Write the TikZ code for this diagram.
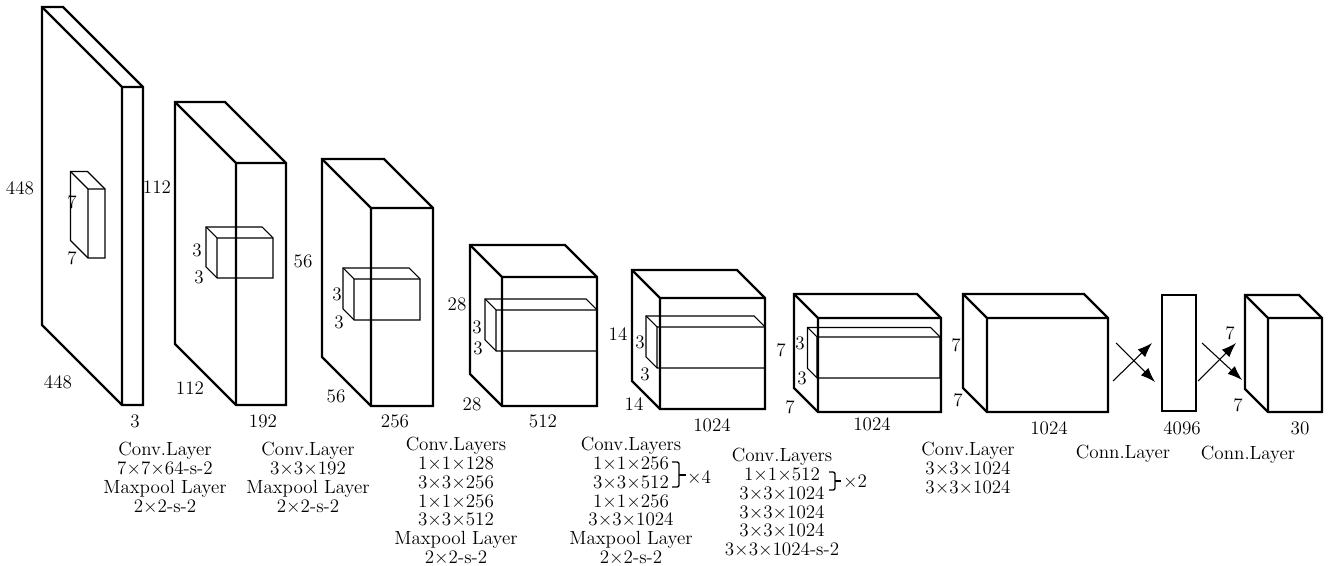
\documentclass[tikz,border=0pt]{standalone}
\usetikzlibrary{arrows.meta}
\newcommand\mycuboid[6][]{%
  \draw[#1] (#2,#5) -- (#4,#5) -- (#4,#3) -- (#4-#6,#3-#6) -- (#2-#6,#3-#6) -- (#2-#6,#5-#6) -- cycle;
  \draw[#1] (#2-#6,#3-#6) -- (#2,#3) -- (#4,#3) (#2,#3) -- (#2,#5);
}
\tikzset{
  big/.style={line width=1.7pt, line join=miter},
  small/.style={line width=0.8pt, line join=miter},
  lab/.style={inner sep=0pt, font=\fontsize{14.3}{14.1}\selectfont},
  blk/.style={lab, align=center, anchor=north},
  arr/.style={line width=0.8pt, -{Latex[length=11pt,width=8pt]}},
  brace/.style={line width=1pt, rounded corners=1.5pt},
}
\begin{document}
\begin{tikzpicture}[x=0.75pt,y=-0.75pt]
\useasboundingbox (0,0) rectangle (1333,566);
% big blocks
\mycuboid[big]{122}{87}{143}{405}{80}
\mycuboid[big]{236}{163}{286}{405}{61}
\mycuboid[big]{371}{208}{433}{406}{49}
\mycuboid[big]{502}{277}{597}{406}{32}
\mycuboid[big]{660}{298}{765}{409}{28}
\mycuboid[big]{818}{318}{941}{412}{24}
\mycuboid[big]{987}{318}{1108}{412}{24}
\draw[big] (1162,295) rectangle (1196,411);
\mycuboid[big]{1268}{318}{1322}{412}{23}
% kernels
\mycuboid[small]{88}{189}{105}{258}{17.5}
\mycuboid[small]{217}{238}{273}{278}{11}
\mycuboid[small]{354}{279}{420}{320}{11}
\mycuboid[small]{496}{310}{597}{351}{11}
\mycuboid[small]{657}{327}{765}{368}{11}
\mycuboid[small]{817}{337}{940}{378}{9.5}
% dimension labels
\node[lab] (l1a) at (20,188) {448};
\node[lab] (l1b) at (72,202) {7};
\node[lab] (l1c) at (72,258) {7};
\node[lab] (l1d) at (58,382) {448};
\node[lab] (l1e) at (135,421) {3};
\node[lab] (l2a) at (157,187) {112};
\node[lab] (l2b) at (197,250) {3};
\node[lab] (l2c) at (199,277) {3};
\node[lab] (l2d) at (190,388) {112};
\node[lab] (l2e) at (263,421) {192};
\node[lab] (l3a) at (303,261) {56};
\node[lab] (l3b) at (337,294) {3};
\node[lab] (l3c) at (339,322) {3};
\node[lab] (l3d) at (336,396) {56};
\node[lab] (l3e) at (395,421) {256};
\node[lab] (l4a) at (457,304) {28};
\node[lab] (l4b) at (477,327) {3};
\node[lab] (l4c) at (478,348) {3};
\node[lab] (l4d) at (472,404) {28};
\node[lab] (l4e) at (543,421) {512};
\node[lab] (l5a) at (618,334) {14};
\node[lab] (l5b) at (640,342) {3};
\node[lab] (l5c) at (645,374) {3};
\node[lab] (l5d) at (634,404) {14};
\node[lab] (l5e) at (712,425) {1024};
\node[lab] (l6a) at (781,350) {7};
\node[lab] (l6b) at (800,343) {3};
\node[lab] (l6c) at (802,378) {3};
\node[lab] (l6d) at (790,407) {7};
\node[lab] (l6e) at (872,424) {1024};
\node[lab] (l7a) at (956,345) {7};
\node[lab] (l7b) at (958,400) {7};
\node[lab] (l7e) at (1049,428) {1024};
\node[lab] (l8e) at (1182,428) {4096};
\node[lab] (l9a) at (1230,333) {7};
\node[lab] (l9b) at (1238,405) {7};
\node[lab] (l9e) at (1300,428) {30};
% arrows
\coordinate (a1s) at (1116,343); \coordinate (a1e) at (1155,382);
\coordinate (a2s) at (1113,381); \coordinate (a2e) at (1152,343);
\coordinate (a3s) at (1198,381); \coordinate (a3e) at (1236,343);
\coordinate (a4s) at (1202,343); \coordinate (a4e) at (1242,380);
\draw[arr] (a1s) -- (a1e);
\draw[arr] (a2s) -- (a2e);
\draw[arr] (a3s) -- (a3e);
\draw[arr] (a4s) -- (a4e);
% layer descriptions
\node[blk] (t1) at (165,442) {Conv.Layer\\7×7×64-s-2\\Maxpool Layer\\2×2-s-2};
\node[blk] (t2) at (308,442) {Conv.Layer\\3×3×192\\Maxpool Layer\\2×2-s-2};
\node[blk] (t3) at (456,437) {Conv.Layers\\1×1×128\\3×3×256\\1×1×256\\3×3×512\\Maxpool Layer\\2×2-s-2};
\node[blk] (t4) at (631,437) {Conv.Layers\\1×1×256\\3×3×512\\1×1×256\\3×3×1024\\Maxpool Layer\\2×2-s-2};
\node[blk] (t5) at (782,448) {Conv.Layers\\1×1×512\\3×3×1024\\3×3×1024\\3×3×1024\\3×3×1024-s-2};
\node[blk] (t6) at (968,442) {Conv.Layer\\3×3×1024\\3×3×1024};
\node[blk] (t7) at (1123,445) {Conn.Layer};
\node[blk] (t8) at (1248,446) {Conn.Layer};
% braces
\draw[brace] (672,462) -- (679,462) -- (679,487) -- (672,487);
\draw[line width=1pt] (679,475) -- (686,475);
\node[lab] (x4) at (699,477) {×4};
\draw[brace] (829,472) -- (835,472) -- (835,490) -- (829,490);
\draw[line width=1pt] (835,481) -- (841,481);
\node[lab] (x2) at (855,481) {×2};
\end{tikzpicture}
\end{document}
